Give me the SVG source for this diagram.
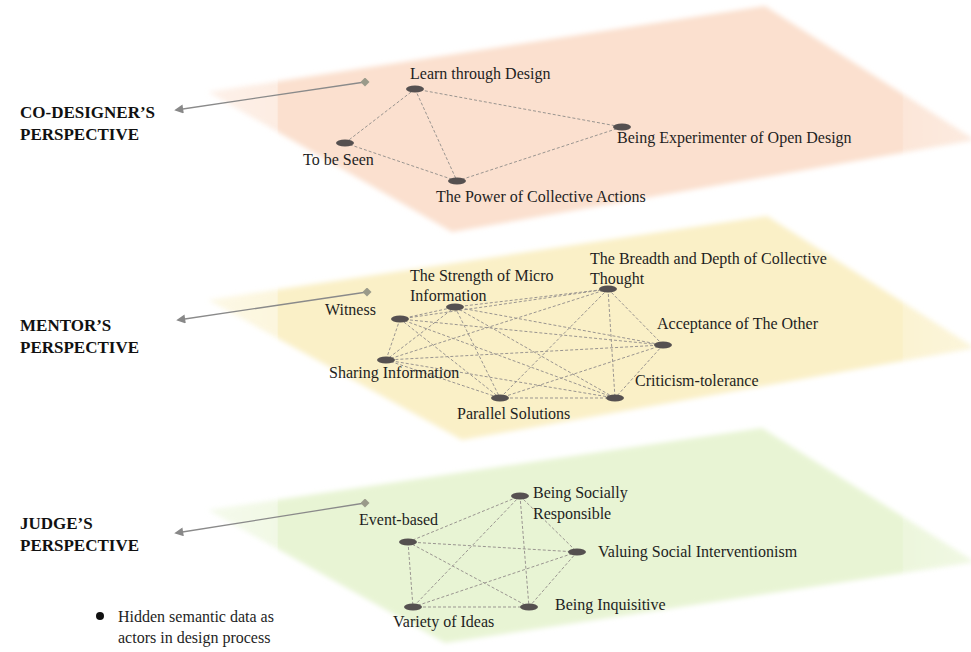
<svg xmlns="http://www.w3.org/2000/svg" width="971" height="652" viewBox="0 0 971 652">
<style>
text{font-family:"Liberation Serif","Times New Roman",serif;fill:#1e1e1e}
.lbl{font-size:16px}
.hd{font-size:17px;font-weight:bold;fill:#111}
.nd{fill:#555050}
.ed{stroke:#9a9590;stroke-width:1;stroke-dasharray:3 2;fill:none}
.ar{stroke:#8a8a8a;stroke-width:1.3;fill:none}
</style>
<defs>
<filter id="soft" x="-5%" y="-5%" width="110%" height="110%"><feGaussianBlur stdDeviation="2.5"/></filter>
<linearGradient id="fade" gradientUnits="userSpaceOnUse" x1="208" y1="0" x2="975" y2="0">
<stop offset="0" stop-color="#fff" stop-opacity="0.45"/>
<stop offset="0.09" stop-color="#fff" stop-opacity="0.6"/>
<stop offset="0.092" stop-color="#fff" stop-opacity="1"/>
<stop offset="0.905" stop-color="#fff" stop-opacity="1"/>
<stop offset="0.907" stop-color="#fff" stop-opacity="0.8"/>
<stop offset="1" stop-color="#fff" stop-opacity="0.65"/>
</linearGradient>
<mask id="m1" maskUnits="userSpaceOnUse" x="0" y="0" width="971" height="652"><rect x="0" y="0" width="971" height="652" fill="url(#fade)"/></mask>
<marker id="arr" viewBox="0 0 10 10" refX="8" refY="5" markerWidth="11" markerHeight="9" markerUnits="userSpaceOnUse" orient="auto-start-reverse"><path d="M0,0 L10,5 L0,10 z" fill="#888"/></marker>
<marker id="dia" viewBox="0 0 10 10" refX="5" refY="5" markerWidth="9" markerHeight="9" markerUnits="userSpaceOnUse" orient="0"><path d="M0,5 L5,0 L10,5 L5,10 z" fill="#9a9a8a"/></marker>
</defs>
<rect width="971" height="652" fill="#ffffff"/>
<g id="planes" mask="url(#m1)" filter="url(#soft)">
<polygon id="plane-codesigner" points="208,92 765,6 975,140 452,232" fill="#fbe0cf"/>
<polygon id="plane-mentor" points="208,300 767,216 975,348 462,440" fill="#faf0c7"/>
<polygon id="plane-judge" points="208,510 762,428 975,562 445,643" fill="#e8f4d4"/>
</g>
<g id="connectors">
<path class="ar" d="M176,110 L365,82" marker-start="url(#arr)" marker-end="url(#dia)"/>
<path class="ar" d="M178,320 L367,292" marker-start="url(#arr)" marker-end="url(#dia)" stroke="#8a8fa0"/>
<path class="ar" d="M176,533 L365,503" marker-start="url(#arr)" marker-end="url(#dia)"/>
<g class="ed">
<path d="M415,89 L345,143"/>
<path d="M415,89 L457,181"/>
<path d="M415,89 L622,127"/>
<path d="M345,143 L457,181"/>
<path d="M457,181 L622,127"/>
</g>
<g class="ed">
<path d="M400,319 L455,307"/>
<path d="M400,319 L608,289"/>
<path d="M400,319 L663,345"/>
<path d="M400,319 L386,360"/>
<path d="M400,319 L500,398"/>
<path d="M400,319 L615,398"/>
<path d="M455,307 L608,289"/>
<path d="M455,307 L663,345"/>
<path d="M455,307 L386,360"/>
<path d="M455,307 L500,398"/>
<path d="M455,307 L615,398"/>
<path d="M608,289 L663,345"/>
<path d="M608,289 L386,360"/>
<path d="M608,289 L500,398"/>
<path d="M608,289 L615,398"/>
<path d="M663,345 L386,360"/>
<path d="M663,345 L500,398"/>
<path d="M663,345 L615,398"/>
<path d="M386,360 L500,398"/>
<path d="M386,360 L615,398"/>
<path d="M500,398 L615,398"/>
</g>
<g class="ed">
<path d="M408,542 L520,496"/>
<path d="M408,542 L577,552"/>
<path d="M408,542 L413,607"/>
<path d="M408,542 L529,607"/>
<path d="M520,496 L577,552"/>
<path d="M520,496 L413,607"/>
<path d="M520,496 L529,607"/>
<path d="M577,552 L413,607"/>
<path d="M577,552 L529,607"/>
<path d="M413,607 L529,607"/>
</g>
</g>
<g id="perspective-labels">
<g id="codesigner-label"><text class="hd" x="20" y="118">CO-DESIGNER’S</text><text class="hd" x="20" y="140">PERSPECTIVE</text></g>
<g id="mentor-label"><text class="hd" x="20" y="331">MENTOR’S</text><text class="hd" x="20" y="353">PERSPECTIVE</text></g>
<g id="judge-label"><text class="hd" x="20" y="529">JUDGE’S</text><text class="hd" x="20" y="551">PERSPECTIVE</text></g>
</g>
<g id="n-learn"><ellipse class="nd" cx="415" cy="89" rx="9" ry="3.5"/><text class="lbl" x="410" y="79">Learn through Design</text></g>
<g id="n-seen"><ellipse class="nd" cx="345" cy="143" rx="9" ry="3.5"/><text class="lbl" x="303" y="165">To be Seen</text></g>
<g id="n-power"><ellipse class="nd" cx="457" cy="181" rx="9" ry="3.5"/><text class="lbl" x="436" y="202">The Power of Collective Actions</text></g>
<g id="n-experimenter"><ellipse class="nd" cx="622" cy="127" rx="9" ry="3.5"/><text class="lbl" x="617" y="143">Being Experimenter of Open Design</text></g>
<g id="n-witness"><ellipse class="nd" cx="400" cy="319" rx="9" ry="3.5"/><text class="lbl" x="325" y="315">Witness</text></g>
<g id="n-strength"><ellipse class="nd" cx="455" cy="307" rx="9" ry="3.5"/><text class="lbl" x="410" y="281">The Strength of Micro</text><text class="lbl" x="410" y="301">Information</text></g>
<g id="n-breadth"><ellipse class="nd" cx="608" cy="289" rx="9" ry="3.5"/><text class="lbl" x="590" y="264">The Breadth and Depth of Collective</text><text class="lbl" x="590" y="284">Thought</text></g>
<g id="n-acceptance"><ellipse class="nd" cx="663" cy="345" rx="9" ry="3.5"/><text class="lbl" x="657" y="329">Acceptance of The Other</text></g>
<g id="n-sharing"><ellipse class="nd" cx="386" cy="360" rx="9" ry="3.5"/><text class="lbl" x="329" y="378">Sharing Information</text></g>
<g id="n-parallel"><ellipse class="nd" cx="500" cy="398" rx="9" ry="3.5"/><text class="lbl" x="457" y="419">Parallel Solutions</text></g>
<g id="n-criticism"><ellipse class="nd" cx="615" cy="398" rx="9" ry="3.5"/><text class="lbl" x="635" y="386">Criticism-tolerance</text></g>
<g id="n-event"><ellipse class="nd" cx="408" cy="542" rx="9" ry="3.5"/><text class="lbl" x="359" y="525">Event-based</text></g>
<g id="n-socially"><ellipse class="nd" cx="520" cy="496" rx="9" ry="3.5"/><text class="lbl" x="533" y="498">Being Socially</text><text class="lbl" x="533" y="519">Responsible</text></g>
<g id="n-valuing"><ellipse class="nd" cx="577" cy="552" rx="9" ry="3.5"/><text class="lbl" x="598" y="557">Valuing Social Interventionism</text></g>
<g id="n-inquisitive"><ellipse class="nd" cx="529" cy="607" rx="9" ry="3.5"/><text class="lbl" x="555" y="610">Being Inquisitive</text></g>
<g id="n-variety"><ellipse class="nd" cx="413" cy="607" rx="9" ry="3.5"/><text class="lbl" x="393" y="627">Variety of Ideas</text></g>
<g id="legend"><circle cx="100" cy="616" r="4" fill="#111"/><text class="lbl" x="118" y="622">Hidden semantic data as</text><text class="lbl" x="118" y="643">actors in design process</text></g>
</svg>
